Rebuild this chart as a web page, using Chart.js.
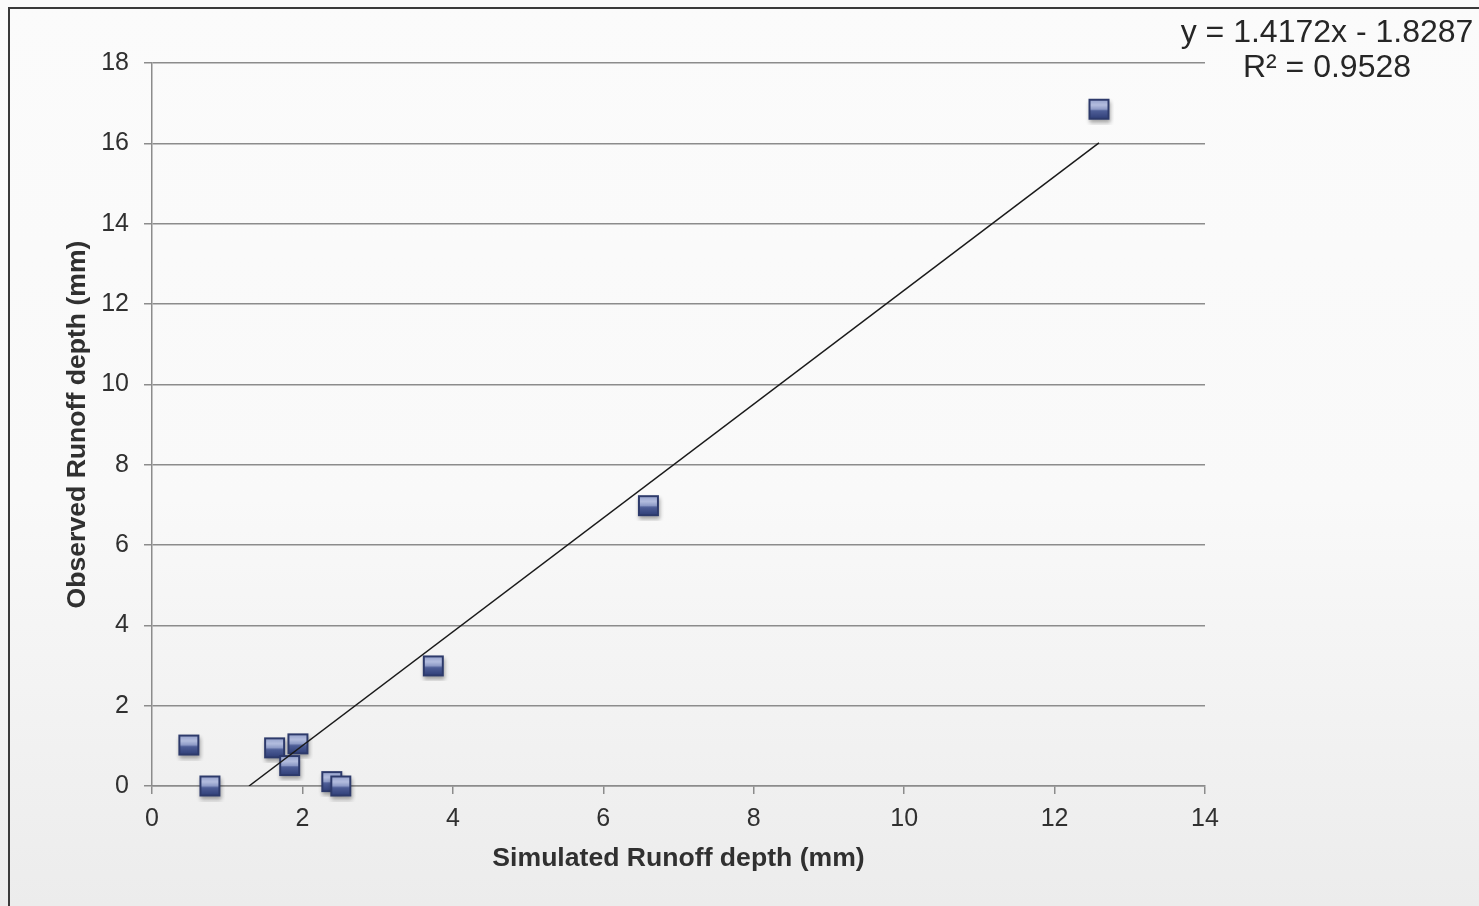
<!DOCTYPE html>
<html>
<head>
<meta charset="utf-8">
<script src="https://cdn.jsdelivr.net/npm/chart.js@4.4.0/dist/chart.umd.min.js"></script>
<style>
  html, body { margin: 0; padding: 0; width: 1479px; height: 906px; overflow: hidden; }
  body { background: linear-gradient(to bottom, #fbfbfb 0%, #f9f9f9 55%, #ececec 100%); position: relative; }
  #frame { position: absolute; left: 8px; top: 7px; right: -10px; bottom: -10px;
           border-left: 2px solid #3a3a3a; border-top: 2px solid #3a3a3a; }
  #wrap { position: absolute; left: 0; top: 0; width: 1479px; height: 906px; }
</style>
</head>
<body>
<div id="frame"></div>
<div id="wrap"><canvas id="c" width="1479" height="906"></canvas></div>
<script>
// ---- data ----
const simulated = [0.49, 0.77, 1.63, 1.94, 1.83, 2.39, 2.51, 3.74, 6.60, 12.59];
const observed  = [1.02, 0.00, 0.95, 1.05, 0.51, 0.11, 0.00, 2.99, 6.98, 16.85];
const trendX = [1.29, 12.59];
const trendY = [0.00, 16.01];
const xTickValues = [0, 2, 4, 6, 8, 10, 12, 14];
const yTickValues = [0, 2, 4, 6, 8, 10, 12, 14, 16, 18];
const equationLines = ['y = 1.4172x - 1.8287', 'R\u00B2 = 0.9528'];
const xTitle = 'Simulated Runoff depth (mm)';
const yTitle = 'Observed Runoff depth (mm)';

const FONT = '"Liberation Sans", Arial, sans-serif';

// marker image
function makeMarker() {
  const cv = document.createElement('canvas');
  cv.width = 31; cv.height = 31;
  const g = cv.getContext('2d');
  const x0 = 5, y0 = 5, s = 21;
  g.save();
  g.shadowColor = 'rgba(0,0,0,0.35)';
  g.shadowBlur = 4;
  g.shadowOffsetX = 1;
  g.shadowOffsetY = 3;
  g.fillStyle = '#2d3a6b';
  g.fillRect(x0, y0, s, s);
  g.restore();
  const gr = g.createLinearGradient(0, y0 + 2, 0, y0 + s - 2);
  gr.addColorStop(0, '#9aa6cf');
  gr.addColorStop(0.25, '#b4bedf');
  gr.addColorStop(0.5, '#8d9ac6');
  gr.addColorStop(0.58, '#4f5f98');
  gr.addColorStop(1, '#34437c');
  g.fillStyle = gr;
  g.fillRect(x0 + 2, y0 + 2, s - 4, s - 4);
  return cv;
}
const marker = makeMarker();

const scatterPoints = simulated.map((x, i) => ({ x: x, y: observed[i] }));
const trendPoints = trendX.map((x, i) => ({ x: x, y: trendY[i] }));

const equationPlugin = {
  id: 'equation',
  afterDraw(chart) {
    const ctx = chart.ctx;
    ctx.save();
    ctx.font = '32px ' + FONT;
    ctx.fillStyle = '#262626';
    ctx.textAlign = 'center';
    ctx.textBaseline = 'middle';
    ctx.fillText(equationLines[0], 1327, 33);
    ctx.fillText(equationLines[1], 1327, 68);
    ctx.restore();
  }
};

new Chart(document.getElementById('c'), {
  type: 'scatter',
  data: {
    datasets: [
      {
        type: 'line',
        data: trendPoints,
        borderColor: '#1a1a1a',
        borderWidth: 1.5,
        pointRadius: 0,
        fill: false,
        order: 0
      },
      {
        data: scatterPoints,
        pointStyle: marker,
        pointRadius: 11,
        pointHoverRadius: 11,
        clip: false,
        order: 1
      }
    ]
  },
  options: {
    responsive: false,
    animation: false,
    events: [],
    layout: { padding: { left: 0, right: 274, top: 63, bottom: 0 } },
    plugins: { legend: { display: false }, tooltip: { enabled: false } },
    scales: {
      x: {
        type: 'linear',
        min: 0, max: 14,
        afterBuildTicks(scale) { scale.ticks = xTickValues.map(v => ({ value: v })); },
        afterFit(scale) { scale.height = 120; },
        grid: { drawOnChartArea: false, drawTicks: true, tickLength: 8, color: '#8c8c8c', lineWidth: 1.5 },
        border: { display: true, color: '#8c8c8c', width: 1.5 },
        ticks: { font: { family: FONT, size: 25 }, color: '#303030', padding: 10, maxRotation: 0 },
        title: { display: true, text: xTitle, font: { family: FONT, size: 26.6, weight: 'bold' }, color: '#303030', padding: { top: 0, bottom: 31 } }
      },
      y: {
        type: 'linear',
        min: 0, max: 18,
        afterBuildTicks(scale) { scale.ticks = yTickValues.map(v => ({ value: v })); },
        afterFit(scale) { scale.width = 152; },
        grid: { drawOnChartArea: true, drawTicks: true, tickLength: 8, color: '#8c8c8c', lineWidth: 1.5 },
        border: { display: true, color: '#8c8c8c', width: 1.5 },
        ticks: { font: { family: FONT, size: 25 }, color: '#303030', padding: 15 },
        title: { display: true, text: yTitle, font: { family: FONT, size: 26.6, weight: 'bold' }, color: '#303030', padding: { top: 62, bottom: 0 } }
      }
    }
  },
  plugins: [equationPlugin]
});
</script>
</body>
</html>
